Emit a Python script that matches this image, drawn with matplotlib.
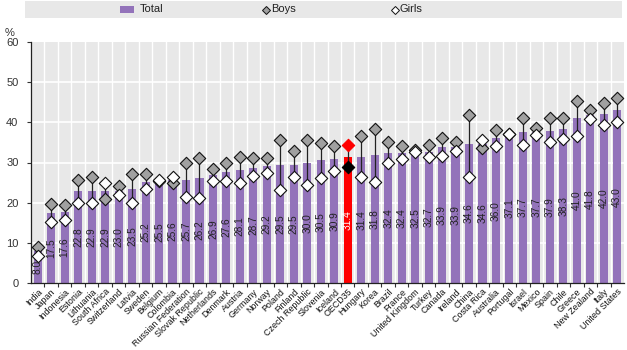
import numpy as np
import matplotlib.pyplot as plt
from matplotlib.patches import Rectangle
from matplotlib.lines import Line2D

plt.rcParams['font.family'] = ['Liberation Sans', 'DejaVu Sans']

# Data
countries = ["India", "Japan", "Indonesia", "Estonia", "Lithuania", "South Africa",
             "Switzerland", "Latvia", "Sweden", "Belgium", "Colombia",
             "Russian Federation", "Slovak Republic", "Netherlands", "Denmark",
             "Austria", "Germany", "Norway", "Poland", "Finland", "Czech Republic",
             "Slovenia", "Iceland", "OECD35", "Hungary", "Korea", "Brazil", "France",
             "United Kingdom", "Turkey", "Canada", "Ireland", "China", "Costa Rica",
             "Australia", "Portugal", "Israel", "Mexico", "Spain", "Chile", "Greece",
             "New Zealand", "Italy", "United States"]
total = [8.0, 17.5, 17.6, 22.8, 22.9, 22.9, 23.0, 23.5, 25.2, 25.5, 25.6, 25.7,
         26.2, 26.9, 27.6, 28.1, 28.7, 29.2, 29.5, 29.5, 30.0, 30.5, 30.9, 31.4,
         31.4, 31.8, 32.4, 32.4, 32.5, 32.7, 33.9, 33.9, 34.6, 34.6, 36.0, 37.1,
         37.7, 37.7, 37.9, 38.3, 41.0, 41.8, 42.0, 43.0]
boys = [8.9, 19.6, 19.3, 25.6, 26.4, 21.0, 24.2, 27.1, 27.1, 25.5, 24.8, 30.0,
        31.2, 28.3, 30.0, 31.4, 31.0, 31.2, 35.7, 32.8, 35.7, 34.8, 34.0, 34.3,
        36.5, 38.3, 35.0, 34.2, 33.2, 34.4, 36.2, 35.0, 41.9, 33.7, 38.1, 37.2,
        41.1, 38.7, 41.0, 41.0, 45.4, 43.1, 44.8, 46.0]
girls = [6.7, 15.2, 15.8, 20.0, 19.8, 25.0, 21.9, 19.8, 23.3, 25.7, 26.5, 21.3,
         21.1, 25.4, 25.4, 24.8, 26.7, 27.3, 23.2, 26.4, 24.3, 26.2, 27.9, 28.9,
         26.4, 25.2, 30.0, 30.9, 32.5, 31.4, 31.7, 32.9, 26.4, 35.7, 34.2, 37.1,
         34.4, 36.8, 35.0, 35.8, 36.7, 40.8, 39.4, 40.2]
highlight = "OECD35"

purple = "#9373BA"
bg = "#E8E8E8"

fig = plt.figure(figsize=(6.27, 3.5), dpi=100)
ax = fig.add_axes([31 / 627, 1 - 283 / 350, 593 / 627, 241 / 350])
ax.set_facecolor(bg)

x = np.arange(len(countries))
hi = countries.index(highlight)
colors = ["#FF0000" if c == highlight else purple for c in countries]
ax.bar(x, total, width=0.6, color=colors, zorder=2)

# white grid: horizontal at ticks, vertical between categories
for yv in range(10, 60, 10):
    ax.axhline(yv, color="white", lw=1.2, zorder=1)
for xv in x[:-1] + 0.5:
    ax.axvline(xv, color="white", lw=1.0, zorder=1)

# boys-girls connectors and markers
ax.vlines(x, np.minimum(boys, girls), np.maximum(boys, girls), color="#222222", lw=0.9, zorder=3)
bx = np.delete(x, hi); by = np.delete(boys, hi); gy = np.delete(girls, hi)
ax.scatter(bx, by, marker="D", s=40, facecolor="#A0A0A0", edgecolor="#111111", lw=0.8, zorder=4)
ax.scatter(bx, gy, marker="D", s=40, facecolor="white", edgecolor="#111111", lw=0.8, zorder=5)
ax.scatter([hi], [boys[hi]], marker="D", s=40, facecolor="#FF0000", edgecolor="#FF0000", lw=0.8, zorder=4)
ax.scatter([hi], [girls[hi]], marker="D", s=40, facecolor="#000000", edgecolor="#000000", lw=0.8, zorder=5)

# value labels inside bars
for xi, v, c in zip(x, total, countries):
    ax.text(xi, v / 2, f"{v:.1f}", rotation=90, ha="center", va="center",
            fontsize=7.3, color="white" if c == highlight else "#222222", zorder=6)

ax.set_xlim(-0.5, len(countries) - 0.5)
ax.set_ylim(0, 60)
ax.set_yticks(range(0, 61, 10))
ax.tick_params(axis="y", labelsize=8, colors="#333333", length=3, width=0.8, pad=6)
ax.set_xticks(x[:-1] + 0.5, minor=False)
ax.set_xticklabels([])
ax.set_xticks(x, minor=True)
ax.set_xticklabels(countries, minor=True, rotation=45, ha="right",
                   rotation_mode="anchor", fontsize=6.4, color="#111111")
ax.tick_params(axis="x", which="major", length=3, width=0.8, direction="out", color="#333333")
ax.tick_params(axis="x", which="minor", length=0, pad=3)
for s in ["top", "right"]:
    ax.spines[s].set_visible(False)
ax.spines["left"].set_color("#222222")
ax.spines["bottom"].set_color("#222222")
ax.spines["left"].set_linewidth(0.9)
ax.spines["bottom"].set_linewidth(0.9)

fig.text(5 / 627, 1 - 33 / 350, "%", fontsize=8, color="#333333", ha="left", va="center")

# legend bar at top
fig.add_artist(Rectangle((25 / 627, 1 - 18 / 350), 597 / 627, 17 / 350,
                         transform=fig.transFigure, facecolor=bg, edgecolor="none"))
ly = 1 - 9.5 / 350
fig.add_artist(Rectangle((120 / 627, ly - 3.5 / 350), 14 / 627, 7 / 350,
                         transform=fig.transFigure, facecolor=purple, edgecolor="none"))
fig.text(140 / 627, ly, "Total", fontsize=8, va="center", color="#222222")
fig.add_artist(Line2D([266 / 627], [ly], marker="D", markersize=4, markerfacecolor="#A0A0A0",
                      markeredgecolor="#111111", markeredgewidth=0.7, transform=fig.transFigure))
fig.text(271 / 627, ly, "Boys", fontsize=8, va="center", color="#222222")
fig.add_artist(Line2D([395 / 627], [ly], marker="D", markersize=4, markerfacecolor="white",
                      markeredgecolor="#111111", markeredgewidth=0.7, transform=fig.transFigure))
fig.text(400 / 627, ly, "Girls", fontsize=8, va="center", color="#222222")

fig.savefig("out.png", dpi=100)
